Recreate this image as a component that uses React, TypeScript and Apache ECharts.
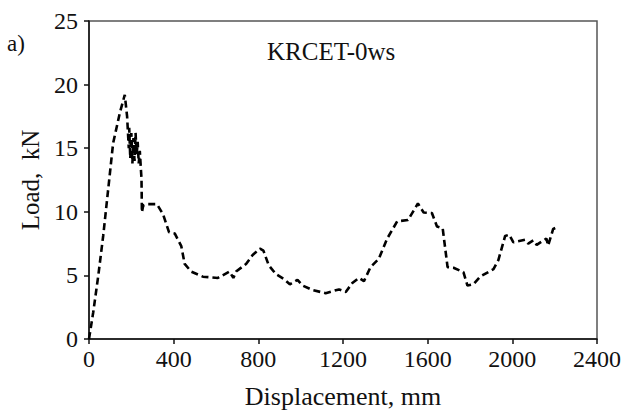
import React, { useEffect, useRef } from "react";
import * as echarts from "echarts";

const displacement = [
  0, 20, 44, 67, 96, 114, 146, 169, 180, 188, 190, 195, 200, 205, 210, 215, 220, 225, 230, 235, 240, 245,
  248, 250, 256, 271, 321, 350, 378, 405, 436, 452, 483, 538, 609, 664, 682, 695, 742, 773, 808, 824, 849,
  883, 922, 949, 985, 1009, 1056, 1118, 1181, 1213, 1244, 1275, 1299, 1330, 1369, 1409, 1456, 1507, 1554,
  1581, 1620, 1644, 1671, 1694, 1722, 1769, 1788, 1816, 1848, 1911, 1934, 1966, 1985, 2005, 2060, 2075,
  2099, 2115, 2161, 2169, 2193, 2213,
];
const load = [
  0, 2.1, 5.0, 8.1, 12.6, 15.4, 17.8, 19.2, 17.5, 15.0, 16.6, 14.2, 16.2, 13.8, 15.8, 14.0, 16.2, 14.5, 15.5,
  13.8, 14.8, 13.4, 12.6, 9.95, 10.5, 10.6, 10.6, 9.8, 8.4, 8.3, 7.3, 5.9, 5.3, 4.9, 4.8, 5.3, 4.8, 5.3,
  5.9, 6.6, 7.1, 6.95, 5.8, 5.1, 4.7, 4.3, 4.65, 4.2, 3.85, 3.6, 3.9, 3.7, 4.4, 4.8, 4.55, 5.65, 6.3, 7.9,
  9.25, 9.35, 10.65, 9.95, 9.9, 8.85, 8.7, 5.65, 5.6, 5.25, 4.2, 4.3, 4.9, 5.5, 6.2, 8.1, 8.2, 7.6, 7.8,
  7.5, 7.75, 7.4, 7.9, 7.35, 8.65, 8.8,
];

const xTicks = [0, 400, 800, 1200, 1600, 2000, 2400];
const yTicks = [0, 5, 10, 15, 20, 25];

const titleText = "KRCET-0ws";
const panelLabel = "a)";
const xName = "Displacement, mm";
const yName = "Load,  kN";

const FONT = "'Liberation Serif', serif";

export default function App() {
  const ref = useRef<HTMLDivElement>(null);
  useEffect(() => {
    if (!ref.current) return;
    const chart = echarts.init(ref.current, null, { renderer: "svg" });
    const pts = displacement.map((d, i) => [d, load[i]]);
    chart.setOption({
      animation: false,
      backgroundColor: "#fff",
      textStyle: { fontFamily: FONT },
      grid: {
        left: 89,
        right: 25,
        top: 21,
        bottom: 73,
        show: true,
        borderColor: "#555",
        borderWidth: 1.5,
        backgroundColor: "transparent",
      },
      xAxis: {
        type: "value",
        min: xTicks[0],
        max: xTicks[xTicks.length - 1],
        interval: 400,
        name: xName,
        nameLocation: "middle",
        nameGap: 44,
        nameTextStyle: { fontFamily: FONT, fontSize: 26, color: "#111" },
        axisLine: { show: true, lineStyle: { color: "#111", width: 1.5 } },
        axisTick: { show: true, inside: false, length: 5, lineStyle: { color: "#111", width: 1.5 } },
        axisLabel: {
          fontFamily: FONT,
          fontSize: 24,
          color: "#111",
          margin: 8,
          formatter: (v: number) => String(v),
        },
        splitLine: { show: false },
      },
      yAxis: {
        type: "value",
        min: yTicks[0],
        max: yTicks[yTicks.length - 1],
        interval: 5,
        name: yName,
        nameLocation: "middle",
        nameGap: 45,
        nameRotate: 90,
        nameTextStyle: { fontFamily: FONT, fontSize: 25, color: "#111" },
        axisLine: { show: true, lineStyle: { color: "#111", width: 1.5 } },
        axisTick: { show: true, inside: false, length: 5, lineStyle: { color: "#111", width: 1.5 } },
        axisLabel: { fontFamily: FONT, fontSize: 24, color: "#111", margin: 11 },
        splitLine: { show: false },
      },
      graphic: [
        {
          type: "text",
          left: 267,
          top: 39,
          style: { text: titleText, font: `25px ${FONT}`, fill: "#111" },
        },
        {
          type: "text",
          left: 7,
          top: 32,
          style: { text: panelLabel, font: `23px ${FONT}`, fill: "#111" },
        },
      ],
      series: [
        {
          type: "line",
          data: pts,
          showSymbol: false,
          symbol: "none",
          lineStyle: { color: "#000", width: 2.6, type: [7, 4] },
        },
      ],
    });
    return () => chart.dispose();
  }, []);
  return <div ref={ref} style={{ width: 624, height: 414, position: "absolute", left: 0, top: 0 }} />;
}
